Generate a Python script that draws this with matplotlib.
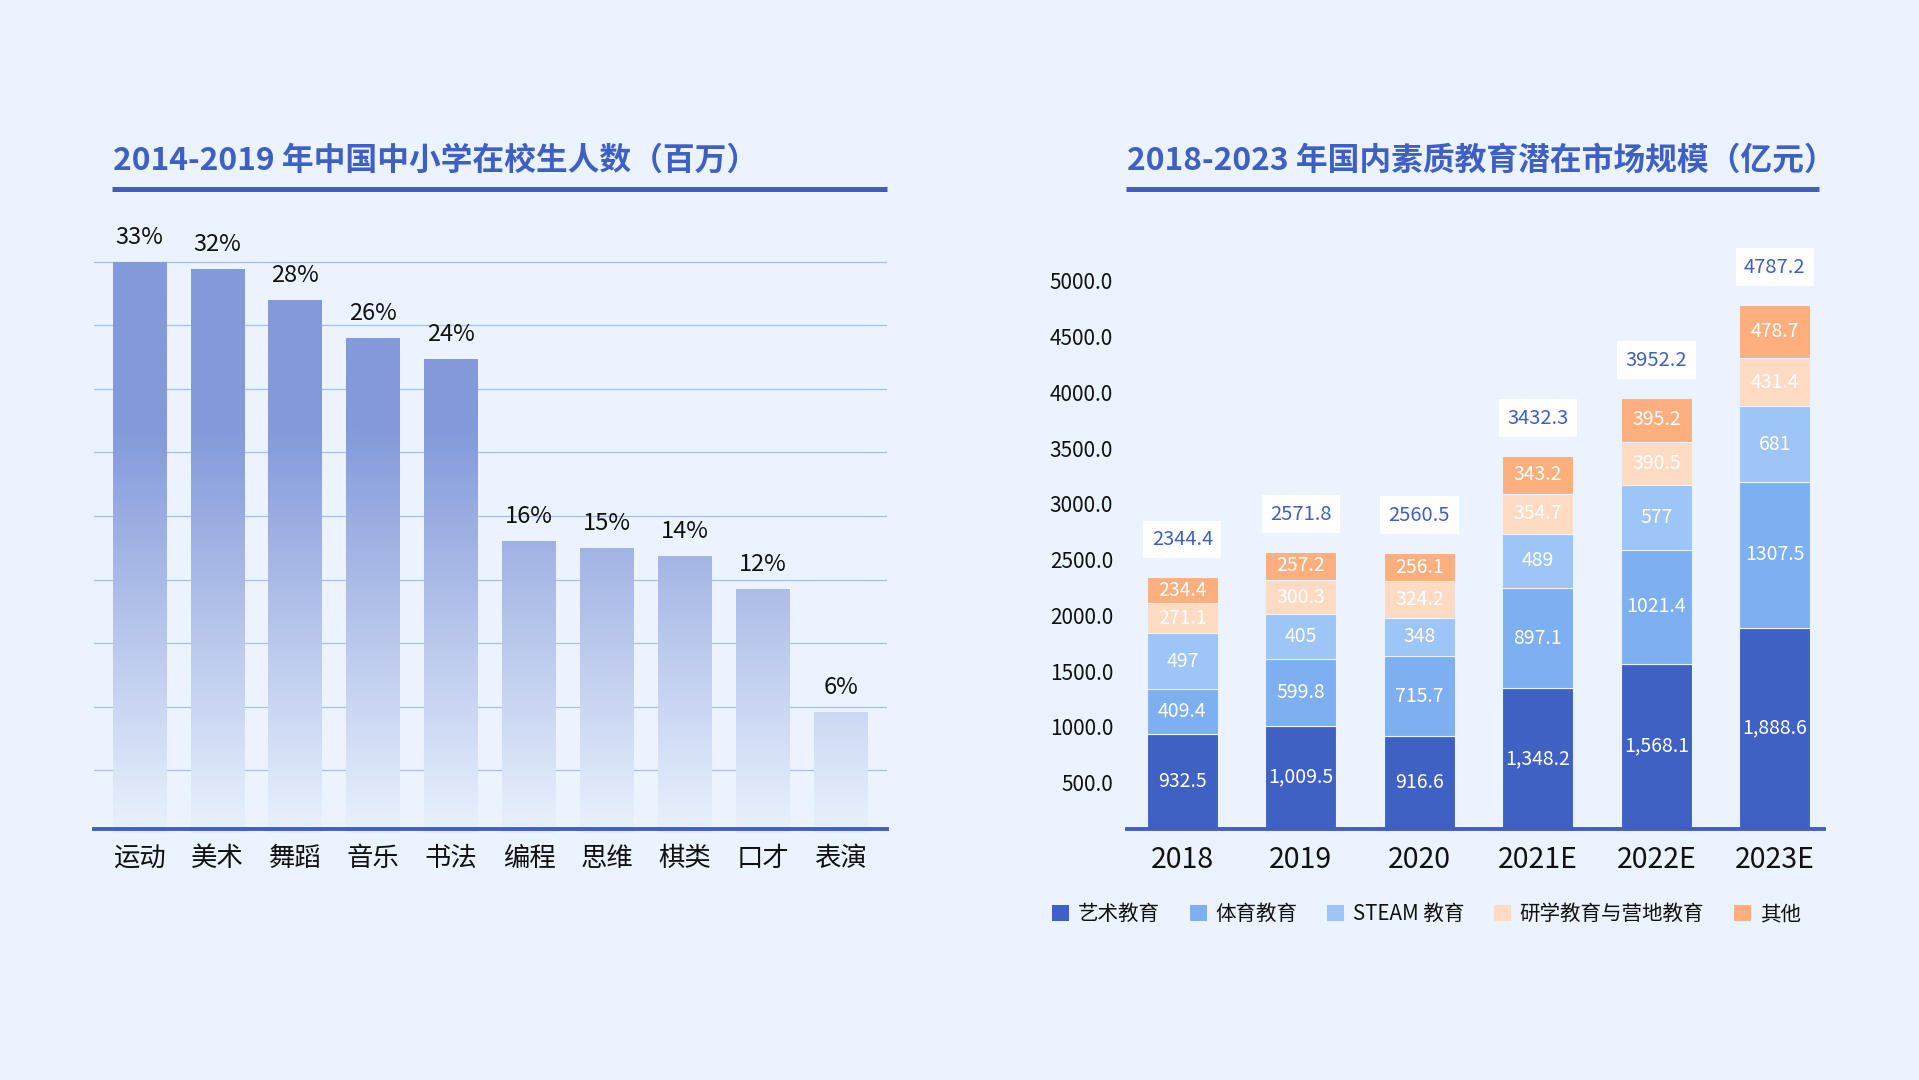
import numpy as np
import matplotlib
matplotlib.use("Agg")
import matplotlib.pyplot as plt
from matplotlib.lines import Line2D
from matplotlib.colors import to_rgb
from matplotlib.patches import Patch

plt.rcParams['font.family'] = ['Noto Sans CJK SC', 'DejaVu Sans']

# ---------------- data ----------------
left_title = "2014-2019 年中国中小学在校生人数（百万）"
categories = ["运动", "美术", "舞蹈", "音乐", "书法", "编程", "思维", "棋类", "口才", "表演"]
bar_values = [33.0, 32.6, 30.8, 28.6, 27.4, 16.9, 16.5, 16.0, 14.1, 7.0]
bar_labels = ["33%", "32%", "28%", "26%", "24%", "16%", "15%", "14%", "12%", "6%"]

right_title = "2018-2023 年国内素质教育潜在市场规模（亿元）"
years = ["2018", "2019", "2020", "2021E", "2022E", "2023E"]
series_names = ["艺术教育", "体育教育", "STEAM 教育", "研学教育与营地教育", "其他"]
art = [932.5, 1009.5, 916.6, 1348.2, 1568.1, 1888.6]
sport = [409.4, 599.8, 715.7, 897.1, 1021.4, 1307.5]
steam = [497, 405, 348, 489, 577, 681]
study = [271.1, 300.3, 324.2, 354.7, 390.5, 431.4]
other = [234.4, 257.2, 256.1, 343.2, 395.2, 478.7]
art_labels = ["932.5", "1,009.5", "916.6", "1,348.2", "1,568.1", "1,888.6"]
sport_labels = ["409.4", "599.8", "715.7", "897.1", "1021.4", "1307.5"]
steam_labels = ["497", "405", "348", "489", "577", "681"]
study_labels = ["271.1", "300.3", "324.2", "354.7", "390.5", "431.4"]
other_labels = ["234.4", "257.2", "256.1", "343.2", "395.2", "478.7"]
totals = [2344.4, 2571.8, 2560.5, 3432.3, 3952.2, 4787.2]
y_ticks = [500, 1000, 1500, 2000, 2500, 3000, 3500, 4000, 4500, 5000]

# ---------------- style ----------------
BG = '#EBF3FE'
BLUE = '#3F5FC5'
GRID = '#A8BEEC'
series_colors = ['#4061C4', '#7DAFF1', '#9DC5F6', '#FFDBC3', '#FFAF7D']
W, H = 1919, 1080

fig = plt.figure(figsize=(W / 100, H / 100), dpi=100)
fig.patch.set_facecolor(BG)

def fx(px):
    return px / W

def fy(py):
    return 1 - py / H

# titles + underlines
fig.text(fx(113), fy(161), left_title, fontsize=22.9, fontweight='bold', color=BLUE,
         va='center', ha='left')
fig.text(fx(1127), fy(161), right_title, fontsize=22.9, fontweight='bold', color=BLUE,
         va='center', ha='left')
for x0, x1 in [(112, 887), (1126, 1819)]:
    fig.add_artist(Line2D([fx(x0), fx(x1)], [fy(188.5), fy(188.5)], color=BLUE,
                          lw=3.6, transform=fig.transFigure, solid_capstyle='butt'))

# ---------------- left chart ----------------
top_px, base_px = 200, 828.6
axL = fig.add_axes([fx(94), fy(base_px), fx(887 - 94), (base_px - top_px) / H])
axL.set_facecolor('none')
step = 33.0 / 9
px_per_step = 63.5
zero_px = 833.5
yl0 = (zero_px - base_px) / px_per_step * step
yl1 = (zero_px - top_px) / px_per_step * step
xl = (-0.584, 9.596)

for k in range(1, 10):
    axL.axhline(k * step, color=GRID, lw=0.9, zorder=1)

x = np.arange(len(categories))
bars = axL.bar(x, bar_values, width=0.69, color='none', edgecolor='none', zorder=2)

# vertical gradient depending on absolute height
ny = 400
yy = np.linspace(0, yl1, ny)
t = np.clip((yy / 33.0 - 0.03) / 0.68, 0, 1)
c_lo = np.array(to_rgb('#E6EEFC'))
c_hi = np.array(to_rgb('#8399DA'))
grad = c_lo[None, :] * (1 - t[:, None]) + c_hi[None, :] * t[:, None]
grad = grad[:, None, :]
for b in bars:
    im = axL.imshow(grad, extent=(xl[0], xl[1], 0, yl1), origin='lower',
                    aspect='auto', zorder=2, interpolation='bilinear')
    im.set_clip_path(b)

for xi, v, lab in zip(x, bar_values, bar_labels):
    axL.annotate(lab, (xi, v), xytext=(0, 13), textcoords='offset points',
                 ha='center', va='baseline', fontsize=17, color='#111111', zorder=4)

axL.set_xlim(*xl)
axL.set_ylim(yl0, yl1)
axL.set_yticks([])
axL.set_xticks(x)
axL.set_xticklabels(categories, fontsize=19, color='#111111')
axL.tick_params(axis='x', length=0, pad=12)
for s in ['top', 'left', 'right']:
    axL.spines[s].set_visible(False)
axL.spines['bottom'].set_color(BLUE)
axL.spines['bottom'].set_linewidth(2.8)
axL.spines['bottom'].set_zorder(5)

# ---------------- right chart ----------------
s_px = 0.1115          # px per unit
zero_r = 838.4
yr0 = (zero_r - base_px) / s_px
yr1 = (zero_r - top_px) / s_px
axR = fig.add_axes([fx(1127), fy(base_px), fx(1824 - 1127), (base_px - top_px) / H])
axR.set_facecolor('none')
xr = np.arange(len(years))
series = [art, sport, steam, study, other]
series_lbls = [art_labels, sport_labels, steam_labels, study_labels, other_labels]
bottom = np.zeros(len(years))
handles = []
for vals, labs, col, name in zip(series, series_lbls, series_colors, series_names):
    vals = np.array(vals, dtype=float)
    axR.bar(xr, vals, width=0.6, bottom=bottom, color=col, edgecolor='#EAF2FE',
            linewidth=0.8, zorder=2)
    for xi, b0, v, lab in zip(xr, bottom, vals, labs):
        lo = max(b0, yr0)
        axR.text(xi, (lo + b0 + v) / 2, lab, ha='center', va='center',
                 fontsize=14, color='white', zorder=4)
    bottom = bottom + vals
    handles.append(Patch(facecolor=col, edgecolor='none', label=name))

for xi, tot in zip(xr, totals):
    axR.annotate(f"{tot:.1f}", (xi, tot), xytext=(0, 27), textcoords='offset points',
                 ha='center', va='center', fontsize=14.5, color=BLUE, zorder=5,
                 bbox=dict(boxstyle='square,pad=0.42', facecolor='white', edgecolor='none'))

axR.set_xlim(-0.467, 5.415)
axR.set_ylim(yr0, yr1)
axR.set_yticks(y_ticks)
axR.set_yticklabels([f"{v:.1f}" for v in y_ticks], fontsize=15, color='#111111')
axR.tick_params(axis='y', length=0, pad=10)
axR.set_xticks(xr)
axR.set_xticklabels(years, fontsize=20.5, color='#111111')
axR.tick_params(axis='x', length=0, pad=12)
for s in ['top', 'left', 'right']:
    axR.spines[s].set_visible(False)
axR.spines['bottom'].set_color(BLUE)
axR.spines['bottom'].set_linewidth(2.8)
axR.spines['bottom'].set_zorder(5)

fig.legend(handles=handles, loc='center left', bbox_to_anchor=(fx(1052), fy(914)),
           ncol=5, frameon=False, fontsize=14.8, handlelength=0.85, handleheight=0.85,
           handletextpad=0.4, columnspacing=1.45, labelcolor='#111111',
           borderpad=0, borderaxespad=0)

fig.savefig('out.png', dpi=100, facecolor=BG)
